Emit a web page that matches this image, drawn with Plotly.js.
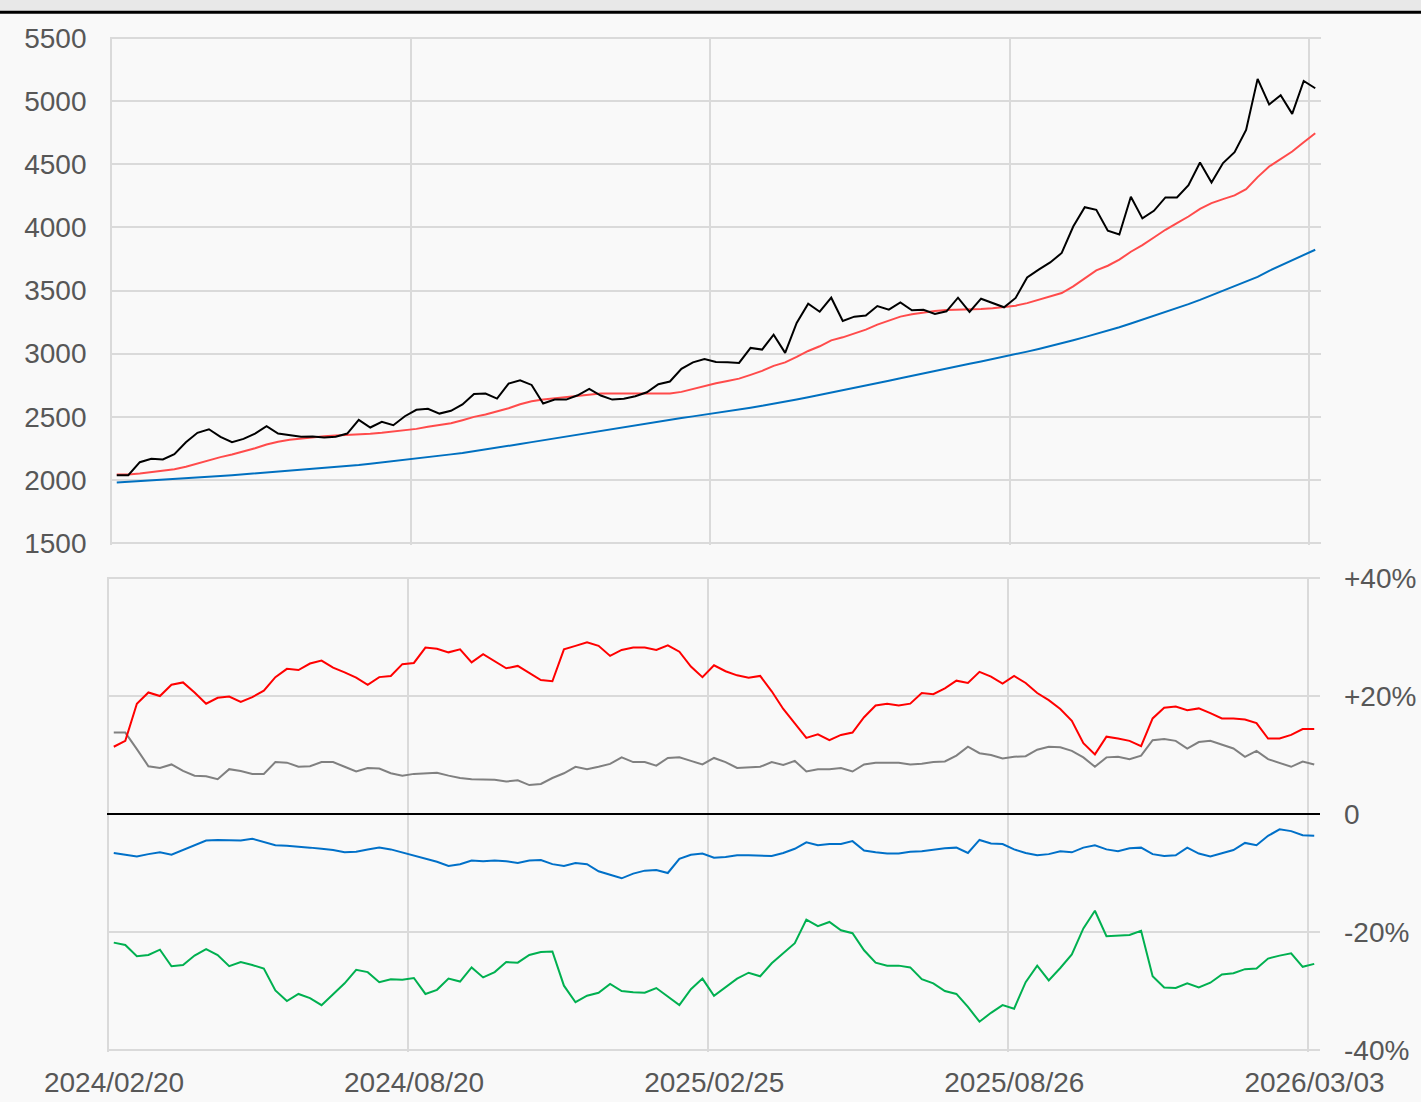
<!DOCTYPE html>
<html>
<head>
<meta charset="utf-8">
<script src="https://cdn.plot.ly/plotly-3.0.1.min.js"></script>
<style>
  html, body { margin: 0; padding: 0; background: #f9f9f9; }
  #chart { width: 1421px; height: 1102px; }
</style>
</head>
<body>
<div id="chart"></div>
<script>
// Tick labels (dates) and the point index where each label sits
const tickDates = ['2024/02/20', '2024/08/20', '2025/02/25', '2025/08/26', '2026/03/03'];
const tickIndex = [0, 26, 52, 78, 104];

// Upper panel: price and two moving averages
const price = [2037,2037,2140,2167,2162,2204,2298,2373,2401,2341,
  2298,2325,2367,2425,2367,2351,2341,2343,2336,2341,
  2367,2475,2415,2460,2433,2504,2555,2563,2525,2547,
  2597,2681,2684,2644,2763,2789,2752,2605,2636,2636,
  2670,2721,2668,2636,2642,2662,2694,2757,2779,2879,
  2931,2958,2934,2931,2926,3045,3032,3150,3006,3243,
  3396,3332,3443,3259,3293,3301,3377,3348,3406,3343,
  3348,3314,3335,3443,3330,3435,3401,3367,3441,3603,
  3665,3722,3797,4007,4160,4139,3973,3944,4242,4071,
  4131,4237,4237,4334,4514,4355,4509,4595,4772,5176,
  4973,5046,4899,5160,5102];
const maShort = [2043,2043,2051,2064,2075,2085,2104,2130,2159,2180,
  2201,2225,2251,2280,2302,2317,2328,2338,2346,2351,
  2354,2359,2365,2373,2383,2393,2404,2420,2433,2449,
  2473,2499,2518,2541,2567,2599,2623,2636,2646,2652,
  2662,2676,2684,2684,2684,2681,2681,2681,2684,2697,
  2721,2747,2765,2784,2802,2832,2863,2903,2931,2974,
  3021,3058,3105,3129,3158,3190,3230,3264,3293,3311,
  3327,3338,3346,3348,3350,3354,3360,3367,3380,3400,
  3427,3450,3480,3533,3599,3659,3696,3744,3807,3860,
  3920,3981,4034,4086,4147,4192,4224,4253,4303,4398,
  4482,4540,4601,4675,4746];
const maLong = [1980,1985,1991,1996,2002,2007,2012,2018,2024,2030,
  2037,2044,2051,2058,2064,2071,2078,2085,2092,2100,
  2108,2117,2127,2137,2147,2158,2169,2180,2191,2202,
  2213,2226,2240,2254,2269,2284,2299,2314,2329,2343,
  2358,2372,2387,2401,2416,2430,2445,2460,2475,2490,
  2503,2516,2528,2542,2557,2572,2587,2602,2619,2637,
  2655,2673,2691,2709,2727,2746,2765,2785,2805,2825,
  2845,2865,2884,2902,2920,2938,2956,2975,2995,3016,
  3037,3059,3081,3106,3131,3156,3182,3209,3239,3269,
  3299,3328,3360,3392,3426,3462,3498,3534,3570,3608,
  3656,3698,3736,3779,3823];

// Lower panel: percentage series
const pctRed = [11.4,12.4,18.7,20.6,20.0,21.9,22.3,20.6,18.7,19.7,
  19.9,19.0,19.8,20.9,23.2,24.6,24.4,25.5,26.0,24.8,
  24.0,23.1,21.9,23.2,23.4,25.4,25.6,28.2,28.0,27.4,
  27.9,25.7,27.1,25.9,24.7,25.1,23.9,22.7,22.5,27.9,
  28.5,29.1,28.5,26.8,27.8,28.2,28.2,27.8,28.6,27.5,
  25.0,23.2,25.2,24.2,23.5,23.1,23.4,20.8,17.8,15.4,
  12.9,13.5,12.5,13.4,13.8,16.4,18.4,18.7,18.4,18.7,
  20.5,20.3,21.3,22.6,22.2,24.1,23.3,22.1,23.4,22.2,
  20.5,19.3,17.8,15.8,12.0,10.1,13.1,12.8,12.4,11.5,
  16.2,18.0,18.2,17.6,17.9,17.1,16.2,16.2,16.0,15.4,
  12.8,12.8,13.4,14.4,14.4];
const pctGray = [13.8,13.8,11.0,8.1,7.8,8.4,7.3,6.5,6.4,5.9,
  7.6,7.3,6.8,6.8,8.8,8.7,8.0,8.1,8.8,8.8,
  8.0,7.2,7.8,7.7,6.9,6.5,6.8,6.9,7.0,6.5,
  6.1,5.9,5.8,5.8,5.5,5.7,4.9,5.1,6.1,6.9,
  8.0,7.6,8.0,8.5,9.6,8.8,8.8,8.2,9.5,9.6,
  9.0,8.4,9.5,8.8,7.8,7.9,8.0,8.8,8.3,9.0,
  7.2,7.6,7.6,7.8,7.2,8.4,8.7,8.7,8.7,8.4,
  8.5,8.8,8.9,9.9,11.4,10.3,10.0,9.4,9.7,9.8,
  10.9,11.4,11.3,10.7,9.6,8.0,9.6,9.7,9.3,9.9,
  12.5,12.7,12.4,11.1,12.2,12.4,11.7,11.1,9.7,10.7,
  9.3,8.6,8.0,8.9,8.4];
const pctBlue = [-6.6,-6.9,-7.2,-6.8,-6.5,-6.9,-6.1,-5.4,-4.5,-4.4,
  -4.4,-4.5,-4.2,-4.7,-5.3,-5.4,-5.5,-5.7,-5.9,-6.1,
  -6.5,-6.4,-6.0,-5.7,-6.0,-6.5,-7.0,-7.6,-8.1,-8.8,
  -8.5,-7.9,-8.0,-7.9,-8.0,-8.3,-7.9,-7.8,-8.5,-8.8,
  -8.3,-8.5,-9.7,-10.3,-10.9,-10.1,-9.6,-9.5,-10.0,-7.6,
  -6.9,-6.7,-7.4,-7.3,-7.0,-7.0,-7.1,-7.1,-6.6,-5.9,
  -4.8,-5.3,-5.1,-5.1,-4.6,-6.2,-6.5,-6.7,-6.7,-6.4,
  -6.3,-6.0,-5.8,-5.7,-6.6,-4.4,-5.0,-5.1,-6.0,-6.6,
  -7.0,-6.8,-6.3,-6.5,-5.7,-5.3,-6.0,-6.3,-5.8,-5.7,
  -6.8,-7.1,-7.0,-5.7,-6.7,-7.2,-6.6,-6.1,-4.9,-5.3,
  -3.7,-2.6,-2.9,-3.6,-3.7];
const pctGreen = [-21.8,-22.2,-24.1,-23.9,-23.0,-25.8,-25.6,-24.0,-22.9,-23.9,
  -25.8,-25.1,-25.6,-26.2,-29.9,-31.7,-30.5,-31.2,-32.4,-30.6,
  -28.7,-26.4,-26.8,-28.5,-28.0,-28.1,-27.8,-30.5,-29.8,-27.9,
  -28.4,-26.0,-27.7,-26.8,-25.1,-25.2,-23.9,-23.4,-23.3,-29.1,
  -31.9,-30.8,-30.3,-28.8,-30.0,-30.2,-30.3,-29.5,-31.0,-32.4,
  -29.7,-27.9,-30.8,-29.4,-27.9,-26.9,-27.5,-25.3,-23.6,-21.9,
  -17.9,-19.0,-18.3,-19.7,-20.2,-23.1,-25.2,-25.7,-25.7,-26.0,
  -28.0,-28.7,-30.0,-30.5,-32.7,-35.2,-33.7,-32.4,-33.0,-28.5,
  -25.7,-28.2,-26.1,-23.8,-19.4,-16.4,-20.7,-20.6,-20.5,-19.8,
  -27.5,-29.4,-29.5,-28.7,-29.4,-28.6,-27.2,-27.0,-26.3,-26.2,
  -24.5,-24.0,-23.6,-25.9,-25.4];

const pctTicks = [-40, -20, 0, 20, 40];
const pctTickText = ['-40%', '-20%', '0', '+20%', '+40%'];
const priceTicks = [1500, 2000, 2500, 3000, 3500, 4000, 4500, 5000, 5500];

const idx = price.map((_, i) => i);
const n = price.length;
const gridVals = tickIndex.map(i => i - 0.5);

function line(y, color, xa, ya) {
  return { x: idx, y: y, type: 'scatter', mode: 'lines', xaxis: xa, yaxis: ya,
           line: { color: color, width: 2 }, hoverinfo: 'skip', showlegend: false };
}

const traces = [
  line(maLong, '#0070c0', 'x', 'y'),
  line(maShort, '#ff4b4b', 'x', 'y'),
  line(price, '#000000', 'x', 'y'),
  line(pctGray, '#808080', 'x2', 'y2'),
  line(pctRed, '#ff0000', 'x2', 'y2'),
  line(pctBlue, '#0070c8', 'x2', 'y2'),
  line(pctGreen, '#00b050', 'x2', 'y2')
];

const W = 1421, H = 1102;
const tickFont = { family: 'Liberation Sans, Arial, sans-serif', size: 28, color: '#575757' };
const grid = '#dadada';
// small padding (px) so that the edge gridlines are not clipped away
const pad = 1.5;
const topPxPerUnit = 63.2 / 500, botPxPerUnit = 117.9 / 20;
const topCat = 1210 / n, botCat = 1212 / n;

const layout = {
  width: W, height: H,
  margin: { l: 0, r: 0, t: 0, b: 0 },
  paper_bgcolor: '#f9f9f9',
  plot_bgcolor: '#f9f9f9',
  showlegend: false,
  xaxis: {
    domain: [(111 - pad) / W, 1321 / W], anchor: 'y',
    range: [-0.5 - pad / topCat, n - 0.5],
    tickmode: 'array', tickvals: gridVals, showticklabels: false,
    showgrid: true, gridcolor: grid, gridwidth: 2,
    zeroline: false, showline: false, ticks: ''
  },
  yaxis: {
    domain: [1 - (543 + pad) / H, 1 - (38 - pad) / H], anchor: 'x',
    range: [1500 - pad / topPxPerUnit, 5500 + pad / topPxPerUnit],
    tickmode: 'array', tickvals: priceTicks, tickformat: 'd',
    showgrid: true, gridcolor: grid, gridwidth: 2,
    zeroline: false, showline: false, ticks: '',
    tickfont: tickFont, ticklabelstandoff: 22
  },
  xaxis2: {
    domain: [(108 - pad) / W, 1320 / W], anchor: 'y2',
    range: [-0.5 - pad / botCat, n - 0.5],
    tickmode: 'array', tickvals: gridVals, ticktext: tickDates,
    ticklabelshift: 6, ticklabelstandoff: 11,
    showgrid: true, gridcolor: grid, gridwidth: 2,
    zeroline: false, showline: false, ticks: '',
    tickfont: tickFont
  },
  yaxis2: {
    domain: [1 - (1050 + pad) / H, 1 - (578 - pad) / H], anchor: 'x2', side: 'right',
    range: [-40 - pad / botPxPerUnit, 40 + pad / botPxPerUnit],
    tickmode: 'array', tickvals: pctTicks, ticktext: pctTickText,
    showgrid: true, gridcolor: grid, gridwidth: 2,
    zeroline: true, zerolinecolor: '#000000', zerolinewidth: 2,
    showline: false, ticks: '',
    tickfont: tickFont, ticklabelstandoff: 23
  },
  shapes: [
    { type: 'rect', xref: 'paper', yref: 'paper', x0: 0, x1: 1, y0: 1 - 11 / H, y1: 1,
      fillcolor: '#e8e8e8', line: { width: 0 }, layer: 'below' },
    { type: 'line', xref: 'paper', yref: 'paper', x0: 0, x1: 1, y0: 1 - 12.3 / H, y1: 1 - 12.3 / H,
      line: { color: '#000000', width: 3 } }
  ]
};

Plotly.newPlot('chart', traces, layout, { staticPlot: true, displayModeBar: false });
</script>
</body>
</html>
